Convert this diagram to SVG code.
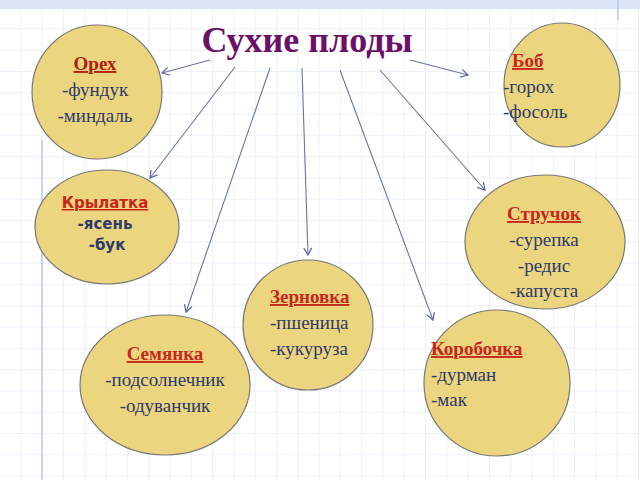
<svg xmlns="http://www.w3.org/2000/svg" width="640" height="480" viewBox="0 0 640 480">
<defs>
<pattern id="g" width="21.3" height="21.3" patternUnits="userSpaceOnUse" x="0" y="8"><path d="M21.3 0V21.3M0 21.3H21.3" fill="none" stroke="#d8e2f4" stroke-width="1"/></pattern>
<marker id="a" markerWidth="10" markerHeight="10" refX="8" refY="5" orient="auto" markerUnits="userSpaceOnUse"><path d="M1 1L8 5L1 9" fill="none" stroke="#5a64a8" stroke-width="1.2"/></marker>
</defs>
<style>
.n{fill:#ecd57f;stroke:#777;stroke-width:1.2}
.t{font-family:"Liberation Serif",serif;font-size:19px;fill:#2d3a6b;text-anchor:middle}
.h{fill:#c8261c;text-decoration:underline;font-weight:bold}
.s{font-family:"DejaVu Sans",sans-serif;font-size:15px;font-weight:bold}
.c line{stroke:#6a72b0;stroke-width:1.1;marker-end:url(#a)}
</style>
<rect width="640" height="480" fill="#fff"/>
<rect width="640" height="480" fill="url(#g)"/>
<rect width="640" height="9" fill="#dbe4f6"/>
<line x1="42" y1="140" x2="42" y2="480" stroke="#b8c8ee" stroke-width="1.5"/>
<line x1="618" y1="0" x2="618" y2="20" stroke="#b8c8ee" stroke-width="1.5"/>
<text x="307" y="52" font-family="Liberation Serif,serif" font-size="36" font-weight="bold" fill="#6b1066" text-anchor="middle">Сухие плоды</text>
<g class="c">
<line x1="210" y1="60" x2="162" y2="73"/>
<line x1="410" y1="60" x2="468" y2="75"/>
<line x1="235" y1="67" x2="150" y2="178"/>
<line x1="380" y1="70" x2="485" y2="190"/>
<line x1="302" y1="68" x2="308" y2="255"/>
<line x1="270" y1="68" x2="186" y2="312"/>
<line x1="340" y1="70" x2="433" y2="320"/>
</g>
<g id="orekh"><ellipse class="n" cx="97" cy="92" rx="65" ry="67"/><text class="t"><tspan x="95" y="70" class="h" style="fill:#b0200f">Орех</tspan><tspan x="95" y="96">-фундук</tspan><tspan x="95" y="122">-миндаль</tspan></text></g>
<g id="bob"><ellipse class="n" cx="562" cy="85" rx="58" ry="62"/><text class="t" style="text-anchor:start"><tspan x="512" y="67" class="h">Боб</tspan><tspan x="503" y="93">-горох</tspan><tspan x="503" y="118">-фосоль</tspan></text></g>
<g id="krylatka"><ellipse class="n" cx="107" cy="227" rx="72" ry="57"/><text class="t s"><tspan x="105" y="208" class="h">Крылатка</tspan><tspan x="105" y="229">-ясень</tspan><tspan x="107" y="250">-бук</tspan></text></g>
<g id="struchok"><ellipse class="n" cx="545" cy="242" rx="80" ry="67"/><text class="t"><tspan x="544" y="220" class="h">Стручок</tspan><tspan x="544" y="246">-сурепка</tspan><tspan x="544" y="272">-редис</tspan><tspan x="544" y="297">-капуста</tspan></text></g>
<g id="zernovka"><ellipse class="n" cx="308" cy="325" rx="65" ry="65"/><text class="t" style="text-anchor:start"><tspan x="270" y="303" class="h">Зерновка</tspan><tspan x="270" y="329">-пшеница</tspan><tspan x="270" y="355">-кукуруза</tspan></text></g>
<g id="semyanka"><ellipse class="n" cx="165" cy="385" rx="85" ry="70"/><text class="t"><tspan x="165" y="360" class="h">Семянка</tspan><tspan x="165" y="386">-подсолнечник</tspan><tspan x="165" y="412">-одуванчик</tspan></text></g>
<g id="korobochka"><ellipse class="n" cx="497" cy="383" rx="73" ry="73"/><text class="t" style="text-anchor:start"><tspan x="431" y="355" class="h">Коробочка</tspan><tspan x="431" y="381">-дурман</tspan><tspan x="431" y="406">-мак</tspan></text></g>
</svg>
